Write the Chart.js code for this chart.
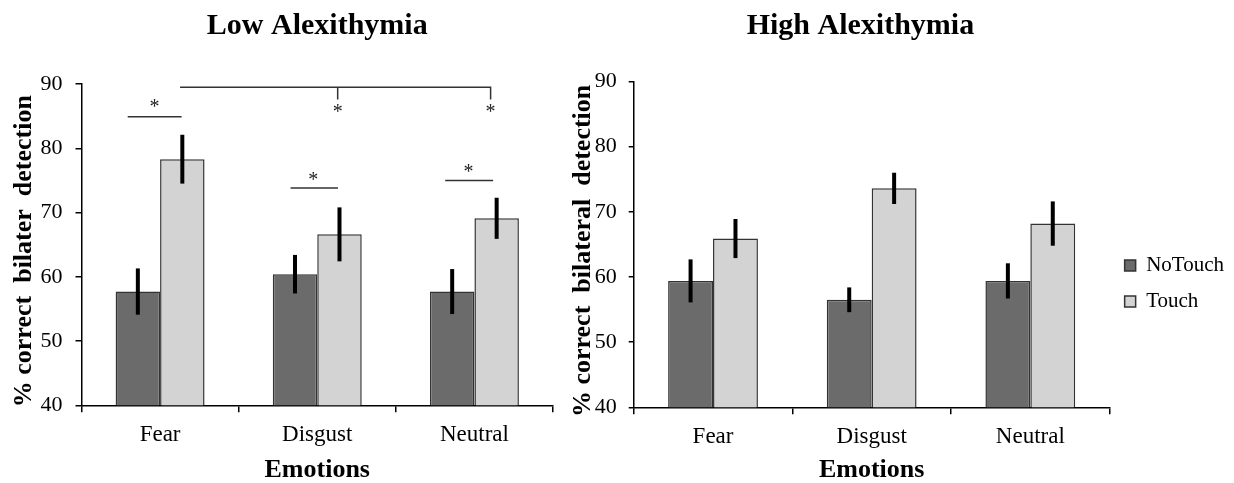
<!DOCTYPE html>
<html>
<head>
<meta charset="utf-8">
<script src="https://cdn.jsdelivr.net/npm/chart.js@4.4.1/dist/chart.umd.min.js"></script>
<style>
  body { margin: 0; background: #fff; }
  #wrap { position: relative; width: 1234px; height: 483px; }
  canvas { position: absolute; top: 0; }
  #canvas_low { left: 0; }
  #canvas_high { left: 560px; }
</style>
</head>
<body>
<div id="wrap">
  <canvas id="canvas_low" width="560" height="483"></canvas>
  <canvas id="canvas_high" width="674" height="483"></canvas>
</div>
<script>
var emotions = ['Fear', 'Disgust', 'Neutral'];
var yTicks = [40, 50, 60, 70, 80, 90];

// low alexithymia group
var lowNoTouch = [57.7, 60.4, 57.7];
var lowNoTouchErr = [3.6, 3.0, 3.5];
var lowTouch = [78.3, 66.6, 69.1];
var lowTouchErr = [3.8, 4.2, 3.2];

// high alexithymia group
var highNoTouch = [59.4, 56.5, 59.4];
var highNoTouchErr = [3.3, 1.9, 2.7];
var highTouch = [65.9, 73.6, 68.2];
var highTouchErr = [3.0, 2.4, 3.4];

// significance marks, x in category units, y in %
var sigPairs = [
  {from: -0.206, to: 0.137, y: 84.9, star: -0.035, starY: 87.1},
  {from: 0.830, to: 1.132, y: 73.8, star: 0.975, starY: 75.7},
  {from: 1.814, to: 2.119, y: 75.0, star: 1.963, starY: 77.0}
];
var sigBracket = {from: 0.127, mid: 1.130, to: 2.103, y: 89.5, drop: 87.6, starY: 86.3};

Chart.defaults.font.family = '"Liberation Serif", "Times New Roman", serif';
Chart.defaults.color = '#000';

var errorBars = {
  id: 'errorBars',
  afterDatasetsDraw: function(chart) {
    var ctx = chart.ctx, y = chart.scales.y;
    ctx.save();
    ctx.strokeStyle = '#000';
    ctx.lineWidth = 4;
    chart.data.datasets.forEach(function(ds, i) {
      chart.getDatasetMeta(i).data.forEach(function(bar, j) {
        ctx.beginPath();
        ctx.moveTo(bar.x, y.getPixelForValue(ds.data[j] + ds.err[j]));
        ctx.lineTo(bar.x, y.getPixelForValue(ds.data[j] - ds.err[j]));
        ctx.stroke();
      });
    });
    ctx.restore();
  }
};

function star(ctx, x, y) {
  // asterisk glyph sits about half an em above the baseline
  ctx.fillText('*', x, y + 10);
}

var sigMarks = {
  id: 'sigMarks',
  afterDatasetsDraw: function(chart) {
    var ctx = chart.ctx, x = chart.scales.x, y = chart.scales.y;
    ctx.save();
    ctx.strokeStyle = '#333';
    ctx.lineWidth = 1.5;
    ctx.fillStyle = '#222';
    ctx.font = '20px "Liberation Serif"';
    ctx.textAlign = 'center';
    ctx.textBaseline = 'alphabetic';
    sigPairs.forEach(function(s) {
      ctx.beginPath();
      ctx.moveTo(x.getPixelForValue(s.from), y.getPixelForValue(s.y));
      ctx.lineTo(x.getPixelForValue(s.to), y.getPixelForValue(s.y));
      ctx.stroke();
      star(ctx, x.getPixelForValue(s.star), y.getPixelForValue(s.starY));
    });
    var b = sigBracket;
    var top = y.getPixelForValue(b.y), low = y.getPixelForValue(b.drop);
    ctx.beginPath();
    ctx.moveTo(x.getPixelForValue(b.from), top);
    ctx.lineTo(x.getPixelForValue(b.to), top);
    ctx.lineTo(x.getPixelForValue(b.to), low);
    ctx.moveTo(x.getPixelForValue(b.mid), top);
    ctx.lineTo(x.getPixelForValue(b.mid), low);
    ctx.stroke();
    star(ctx, x.getPixelForValue(b.mid), y.getPixelForValue(b.starY));
    star(ctx, x.getPixelForValue(b.to), y.getPixelForValue(b.starY));
    ctx.restore();
  }
};

function makeDatasets(noTouch, noTouchErr, touch, touchErr) {
  return [{
    label: 'NoTouch',
    data: noTouch,
    err: noTouchErr,
    backgroundColor: '#6b6b6b',
    borderColor: '#333',
    borderWidth: 1.5,
    borderSkipped: false
  }, {
    label: 'Touch',
    data: touch,
    err: touchErr,
    backgroundColor: '#d3d3d3',
    borderColor: '#333',
    borderWidth: 1.5,
    borderSkipped: false
  }];
}

function drawGraph(id, title, yTitle, datasets, opt) {
  var qid = document.getElementById('canvas_' + id);
  return new Chart(qid, {
    type: 'bar',
    data: { labels: emotions, datasets: datasets },
    plugins: opt.plugins,
    options: {
      responsive: false,
      animation: false,
      layout: { padding: { left: 0, right: opt.padRight, top: 0, bottom: 0 } },
      datasets: { bar: { categoryPercentage: 0.566, barPercentage: 1.0 } },
      plugins: {
        tooltip: { enabled: false },
        title: {
          display: true,
          text: title,
          fullSize: false,
          font: { size: 30, weight: 'bold' },
          padding: { top: 8, bottom: opt.titleGap }
        },
        legend: opt.legend
      },
      scales: {
        x: {
          offset: true,
          grid: { offset: true, drawOnChartArea: false, drawTicks: true, tickLength: 7, color: '#000', lineWidth: 1.5 },
          border: { color: '#000', width: 1.5 },
          ticks: { font: { size: 23 }, padding: 9 },
          title: { display: true, text: 'Emotions', font: { size: 26, weight: 'bold', lineHeight: 1 }, padding: { top: 0, bottom: 0 } },
          afterFit: function(scale) { scale.height = opt.xHeight; }
        },
        y: {
          min: 40,
          max: 90,
          afterBuildTicks: function(scale) {
            scale.ticks = yTicks.map(function(v) { return { value: v }; });
          },
          grid: { drawOnChartArea: false, drawTicks: true, tickLength: opt.tickLen, color: '#000', lineWidth: 1.5 },
          border: { color: '#000', width: 1.5 },
          ticks: { font: { size: 22 }, padding: opt.tickPad },
          title: { display: true, text: yTitle, font: { size: 26, weight: 'bold', lineHeight: 1 }, padding: { top: opt.yTitlePad, bottom: 0 } },
          afterFit: function(scale) { scale.width = opt.yWidth; }
        }
      }
    }
  });
}

// trailing spaces nudge the centred titles to where the text belongs
drawGraph('low', 'Low Alexithymia', '% correct  bilater  detection  ',
  makeDatasets(lowNoTouch, lowNoTouchErr, lowTouch, lowTouchErr), {
    plugins: [errorBars, sigMarks],
    padRight: 7,
    titleGap: 40,
    xHeight: 77.7,
    yWidth: 81.5,
    tickLen: 6,
    tickPad: 13,
    yTitlePad: 11,
    legend: { display: false }
  });

drawGraph('high', 'High Alexithymia   ', '% correct  bilateral  detection  ',
  makeDatasets(highNoTouch, highNoTouchErr, highTouch, highTouchErr), {
    plugins: [errorBars],
    padRight: 0,
    titleGap: 37.5,
    xHeight: 75.7,
    yWidth: 73.7,
    tickLen: 5,
    tickPad: 12,
    yTitlePad: 10,
    legend: {
      display: true,
      position: 'right',
      align: 'start',
      title: { display: true, text: '', font: { size: 10 }, padding: { top: 228, bottom: 0 } },
      labels: { boxWidth: 11, boxHeight: 11, padding: 15, color: '#000', font: { size: 21 } }
    }
  });
</script>
</body>
</html>
